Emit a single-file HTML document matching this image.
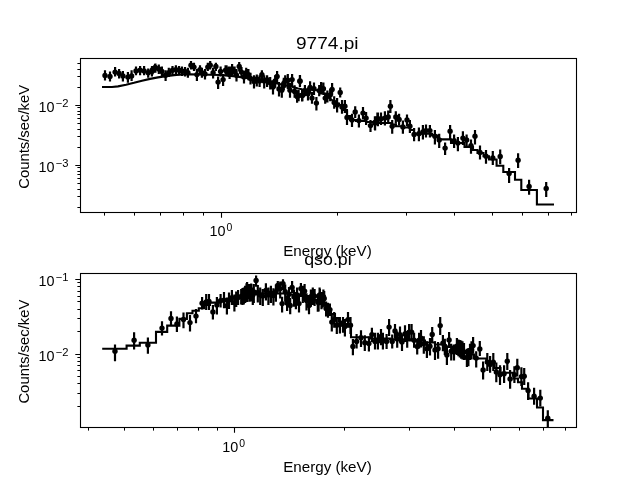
<!DOCTYPE html><html><head><meta charset="utf-8"><title>plot</title><style>html,body{margin:0;padding:0;background:#fff;width:640px;height:480px;overflow:hidden;font-family:"Liberation Sans",sans-serif}</style></head><body><svg width="640" height="480" viewBox="0 0 640 480" style="position:absolute;left:0;top:0;" font-family="Liberation Sans, sans-serif" fill="#000">
<rect width="640" height="480" fill="#fff"/>
<rect x="80.5" y="58.5" width="496" height="154.0" fill="none" stroke="#000" stroke-width="1.1"/><path d="M221.50,212.5v5.2M80.5,105.50h-5.2M80.5,165.50h-5.2" stroke="#000" stroke-width="1.1" fill="none"/><path d="M104.50,212.5v3.1M134.50,212.5v3.1M160.50,212.5v3.1M183.50,212.5v3.1M203.50,212.5v3.1M337.50,212.5v3.1M406.50,212.5v3.1M454.50,212.5v3.1M492.50,212.5v3.1M522.50,212.5v3.1M548.50,212.5v3.1M571.50,212.5v3.1M80.5,87.50h-3.1M80.5,76.50h-3.1M80.5,69.50h-3.1M80.5,63.50h-3.1M80.5,147.50h-3.1M80.5,136.50h-3.1M80.5,129.50h-3.1M80.5,123.50h-3.1M80.5,118.50h-3.1M80.5,114.50h-3.1M80.5,111.50h-3.1M80.5,107.50h-3.1M80.5,207.50h-3.1M80.5,196.50h-3.1M80.5,189.50h-3.1M80.5,183.50h-3.1M80.5,178.50h-3.1M80.5,174.50h-3.1M80.5,171.50h-3.1M80.5,167.50h-3.1" stroke="#000" stroke-width="1" fill="none"/>
<path d="M102.0,87.0L112.0,87.0L118.0,86.4L126.0,84.7L134.0,82.8L142.0,80.7L150.0,78.9L158.0,77.4L166.0,76.1L174.0,75.1L182.0,74.5L190.0,74.3L200.0,74.5L210.0,74.7L220.0,75.0L228.0,75.6L236.0,76.5L244.0,77.6L252.0,78.8L260.0,80.2L268.0,81.7L276.0,83.3L284.0,85.0L292.0,86.8L298.0,88.5L302.0,89.3L310.0,89.8L318.0,90.3L321.0,91.5L324.0,93.5L327.0,96.0L330.0,98.5L332.0,100.0L334.5,102.0L337.0,103.5H339.0V105.0H343.0V110.0H347.0V116.0H350.0V120.0H356.0V121.0H366.0V122.0H376.0V123.0H388.0V123.0H392.0V124.5H396.0V126.3H404.0V127.5H410.0V130.0H414.0V133.8H432.0V135.5H438.0V139.4H451.0V143.0H464.5V146.9H473.0V150.0H477.5V153.0H483.5V156.3H489.0V159.5H496.6V165.8H503.3V172.0H515.0V179.8H521.3V190.0H536.9V204.5H554.0" stroke="#000" stroke-width="2.1" fill="none" stroke-linejoin="miter"/>
<path d="M105.0,70.2V80.5M110.0,71.5V81.5M115.1,67.1V76.5M119.1,69.0V78.4M122.9,70.9V81.5M127.9,72.1V82.8M131.6,70.2V80.9M136.0,66.5V75.2M140.1,65.9V75.2M144.1,65.9V75.2M148.2,68.4V77.8M152.2,65.9V75.0M155.4,63.4V72.8M151.9,66.5V76.5M155.0,64.0V72.8M158.8,64.6V74.0M161.9,66.5V76.5M165.6,70.2V80.9M168.8,67.8V77.1M172.5,65.9V75.2M175.9,65.2V74.6M179.0,65.9V75.2M181.9,66.5V75.9M185.0,67.1V76.5M187.9,67.8V77.8M191.0,60.9V69.6M194.0,62.8V70.9M196.9,69.0V80.9M200.0,65.2V74.6M201.9,67.8V77.8M205.0,69.0V79.6M207.8,62.8V70.9M210.2,60.9V69.6M213.1,67.8V78.4M215.9,62.8V70.9M218.1,76.5V89.0M220.6,66.5V76.5M223.1,74.0V85.9M225.6,65.2V74.6M228.8,66.5V77.1M226.5,65.2V75.2M229.6,66.5V79.0M232.1,64.0V75.2M234.6,66.5V77.1M236.5,69.0V81.5M239.2,62.1V71.5M241.5,67.1V77.8M244.0,71.5V83.4M246.2,67.8V78.4M248.4,69.0V80.2M250.5,72.8V84.6M254.0,75.2V88.4M256.8,74.6V86.5M259.6,75.2V87.1M261.9,70.2V80.9M264.2,75.2V88.4M267.1,75.2V87.1M270.2,77.1V89.6M273.0,80.2V94.6M275.2,75.2V87.8M277.1,70.9V83.4M279.0,82.1V96.5M281.8,83.4V97.8M283.8,77.8V90.2M285.2,75.2V87.8M287.8,74.0V89.0M290.0,82.8V97.8M292.1,74.0V86.5M294.6,85.2V97.8M297.1,90.2V102.8M300.0,75.2V86.5M302.1,89.0V101.5M299.9,75.0V86.9M298.6,90.0V101.2M302.4,90.0V101.2M304.9,85.0V96.2M308.0,87.5V100.6M310.1,81.2V93.8M312.0,91.9V103.8M314.0,82.5V95.0M316.4,96.9V110.6M319.2,85.0V96.2M321.1,81.9V94.4M323.4,82.5V95.0M325.2,92.5V103.8M327.4,90.6V102.5M330.2,88.8V101.2M332.1,83.1V95.6M334.2,96.2V108.8M337.1,98.1V112.5M340.2,87.5V97.5M342.0,100.0V113.8M344.9,100.0V113.1M347.0,110.6V125.0M352.0,113.8V126.9M355.2,106.2V118.1M358.9,114.4V127.5M363.0,106.9V119.4M366.1,111.9V125.0M370.5,120.0V131.9M374.9,116.2V130.0M377.4,112.5V125.0M375.1,116.9V130.6M377.9,112.5V126.2M381.0,112.5V125.0M384.9,111.2V125.6M388.2,110.6V123.1M390.4,100.0V113.1M392.2,120.0V133.8M395.8,111.2V123.8M399.1,113.8V125.6M402.9,120.6V133.8M407.0,114.4V126.2M409.9,120.0V133.1M414.1,128.1V141.2M418.9,127.5V141.2M422.9,125.0V139.4M426.0,124.4V137.5M429.9,125.0V137.5M434.9,130.0V144.4M439.2,133.8V148.1M445.1,142.5V155.0M450.1,125.0V139.4M454.1,134.4V148.1M457.9,136.9V151.2M462.9,131.2V145.0M466.6,134.4V146.2M471.0,139.4V153.8M475.0,130.0V144.4M480.0,145.6V159.4M486.0,150.0V163.8M492.8,150.9V165.0M500.2,149.4V164.2M509.1,168.1V183.0M518.1,153.3V168.1M529.1,179.8V194.7M546.2,181.9V197.0" stroke="#000" stroke-width="2.2" fill="none"/><circle cx="105.0" cy="75.5" r="2.7"/><circle cx="110.0" cy="76.5" r="2.7"/><circle cx="115.1" cy="72.1" r="2.7"/><circle cx="119.1" cy="73.4" r="2.7"/><circle cx="122.9" cy="75.9" r="2.7"/><circle cx="127.9" cy="77.1" r="2.7"/><circle cx="131.6" cy="75.9" r="2.7"/><circle cx="136.0" cy="70.9" r="2.7"/><circle cx="140.1" cy="70.2" r="2.7"/><circle cx="144.1" cy="70.9" r="2.7"/><circle cx="148.2" cy="72.8" r="2.7"/><circle cx="152.2" cy="70.2" r="2.7"/><circle cx="155.4" cy="67.8" r="2.7"/><circle cx="151.9" cy="71.5" r="2.7"/><circle cx="155.0" cy="67.8" r="2.7"/><circle cx="158.8" cy="69.0" r="2.7"/><circle cx="161.9" cy="71.5" r="2.7"/><circle cx="165.6" cy="75.2" r="2.7"/><circle cx="168.8" cy="72.8" r="2.7"/><circle cx="172.5" cy="70.2" r="2.7"/><circle cx="175.9" cy="69.6" r="2.7"/><circle cx="179.0" cy="70.2" r="2.7"/><circle cx="181.9" cy="70.9" r="2.7"/><circle cx="185.0" cy="71.5" r="2.7"/><circle cx="187.9" cy="72.8" r="2.7"/><circle cx="191.0" cy="65.2" r="2.7"/><circle cx="194.0" cy="67.1" r="2.7"/><circle cx="196.9" cy="74.6" r="2.7"/><circle cx="200.0" cy="69.6" r="2.7"/><circle cx="201.9" cy="72.8" r="2.7"/><circle cx="205.0" cy="74.0" r="2.7"/><circle cx="207.8" cy="67.1" r="2.7"/><circle cx="210.2" cy="65.2" r="2.7"/><circle cx="213.1" cy="72.8" r="2.7"/><circle cx="215.9" cy="66.5" r="2.7"/><circle cx="218.1" cy="82.1" r="2.7"/><circle cx="220.6" cy="71.5" r="2.7"/><circle cx="223.1" cy="79.6" r="2.7"/><circle cx="225.6" cy="70.2" r="2.7"/><circle cx="228.8" cy="71.5" r="2.7"/><circle cx="226.5" cy="70.2" r="2.7"/><circle cx="229.6" cy="72.8" r="2.7"/><circle cx="232.1" cy="69.0" r="2.7"/><circle cx="234.6" cy="71.5" r="2.7"/><circle cx="236.5" cy="75.2" r="2.7"/><circle cx="239.2" cy="66.5" r="2.7"/><circle cx="241.5" cy="72.1" r="2.7"/><circle cx="244.0" cy="77.1" r="2.7"/><circle cx="246.2" cy="72.8" r="2.7"/><circle cx="248.4" cy="74.6" r="2.7"/><circle cx="250.5" cy="78.4" r="2.7"/><circle cx="254.0" cy="81.5" r="2.7"/><circle cx="256.8" cy="79.0" r="2.7"/><circle cx="259.6" cy="80.9" r="2.7"/><circle cx="261.9" cy="74.6" r="2.7"/><circle cx="264.2" cy="80.9" r="2.7"/><circle cx="267.1" cy="79.6" r="2.7"/><circle cx="270.2" cy="82.8" r="2.7"/><circle cx="273.0" cy="87.1" r="2.7"/><circle cx="275.2" cy="80.9" r="2.7"/><circle cx="277.1" cy="76.5" r="2.7"/><circle cx="279.0" cy="89.0" r="2.7"/><circle cx="281.8" cy="90.2" r="2.7"/><circle cx="283.8" cy="83.4" r="2.7"/><circle cx="285.2" cy="80.9" r="2.7"/><circle cx="287.8" cy="80.2" r="2.7"/><circle cx="290.0" cy="90.2" r="2.7"/><circle cx="292.1" cy="79.6" r="2.7"/><circle cx="294.6" cy="91.5" r="2.7"/><circle cx="297.1" cy="96.5" r="2.7"/><circle cx="300.0" cy="80.9" r="2.7"/><circle cx="302.1" cy="95.2" r="2.7"/><circle cx="299.9" cy="81.2" r="2.7"/><circle cx="298.6" cy="95.6" r="2.7"/><circle cx="302.4" cy="95.6" r="2.7"/><circle cx="304.9" cy="90.6" r="2.7"/><circle cx="308.0" cy="93.8" r="2.7"/><circle cx="310.1" cy="87.5" r="2.7"/><circle cx="312.0" cy="98.1" r="2.7"/><circle cx="314.0" cy="88.8" r="2.7"/><circle cx="316.4" cy="103.1" r="2.7"/><circle cx="319.2" cy="90.6" r="2.7"/><circle cx="321.1" cy="88.1" r="2.7"/><circle cx="323.4" cy="88.8" r="2.7"/><circle cx="325.2" cy="98.1" r="2.7"/><circle cx="327.4" cy="96.2" r="2.7"/><circle cx="330.2" cy="95.0" r="2.7"/><circle cx="332.1" cy="89.4" r="2.7"/><circle cx="334.2" cy="102.5" r="2.7"/><circle cx="337.1" cy="105.0" r="2.7"/><circle cx="340.2" cy="92.5" r="2.7"/><circle cx="342.0" cy="106.9" r="2.7"/><circle cx="344.9" cy="106.2" r="2.7"/><circle cx="347.0" cy="117.5" r="2.7"/><circle cx="352.0" cy="120.0" r="2.7"/><circle cx="355.2" cy="111.9" r="2.7"/><circle cx="358.9" cy="120.6" r="2.7"/><circle cx="363.0" cy="113.1" r="2.7"/><circle cx="366.1" cy="118.1" r="2.7"/><circle cx="370.5" cy="125.6" r="2.7"/><circle cx="374.9" cy="122.5" r="2.7"/><circle cx="377.4" cy="118.8" r="2.7"/><circle cx="375.1" cy="123.1" r="2.7"/><circle cx="377.9" cy="119.4" r="2.7"/><circle cx="381.0" cy="118.8" r="2.7"/><circle cx="384.9" cy="118.1" r="2.7"/><circle cx="388.2" cy="116.9" r="2.7"/><circle cx="390.4" cy="106.2" r="2.7"/><circle cx="392.2" cy="126.2" r="2.7"/><circle cx="395.8" cy="116.9" r="2.7"/><circle cx="399.1" cy="119.4" r="2.7"/><circle cx="402.9" cy="126.9" r="2.7"/><circle cx="407.0" cy="120.0" r="2.7"/><circle cx="409.9" cy="126.2" r="2.7"/><circle cx="414.1" cy="134.4" r="2.7"/><circle cx="418.9" cy="133.8" r="2.7"/><circle cx="422.9" cy="131.9" r="2.7"/><circle cx="426.0" cy="130.6" r="2.7"/><circle cx="429.9" cy="130.6" r="2.7"/><circle cx="434.9" cy="136.2" r="2.7"/><circle cx="439.2" cy="140.0" r="2.7"/><circle cx="445.1" cy="148.1" r="2.7"/><circle cx="450.1" cy="131.2" r="2.7"/><circle cx="454.1" cy="140.6" r="2.7"/><circle cx="457.9" cy="143.1" r="2.7"/><circle cx="462.9" cy="138.1" r="2.7"/><circle cx="466.6" cy="140.0" r="2.7"/><circle cx="471.0" cy="145.6" r="2.7"/><circle cx="475.0" cy="136.2" r="2.7"/><circle cx="480.0" cy="152.5" r="2.7"/><circle cx="486.0" cy="156.2" r="2.7"/><circle cx="492.8" cy="158.0" r="2.7"/><circle cx="500.2" cy="156.4" r="2.7"/><circle cx="509.1" cy="173.6" r="2.7"/><circle cx="518.1" cy="160.3" r="2.7"/><circle cx="529.1" cy="186.4" r="2.7"/><circle cx="546.2" cy="188.4" r="2.7"/>
<rect x="80.5" y="273.5" width="496" height="154.0" fill="none" stroke="#000" stroke-width="1.1"/><path d="M234.50,427.5v5.2M80.5,279.50h-5.2M80.5,354.50h-5.2" stroke="#000" stroke-width="1.1" fill="none"/><path d="M88.50,427.5v3.1M124.50,427.5v3.1M153.50,427.5v3.1M177.50,427.5v3.1M198.50,427.5v3.1M217.50,427.5v3.1M344.50,427.5v3.1M409.50,427.5v3.1M454.50,427.5v3.1M490.50,427.5v3.1M519.50,427.5v3.1M543.50,427.5v3.1M565.50,427.5v3.1M80.5,331.50h-3.1M80.5,318.50h-3.1M80.5,309.50h-3.1M80.5,301.50h-3.1M80.5,296.50h-3.1M80.5,291.50h-3.1M80.5,286.50h-3.1M80.5,282.50h-3.1M80.5,406.50h-3.1M80.5,393.50h-3.1M80.5,383.50h-3.1M80.5,376.50h-3.1M80.5,370.50h-3.1M80.5,365.50h-3.1M80.5,361.50h-3.1M80.5,357.50h-3.1" stroke="#000" stroke-width="1" fill="none"/>
<path d="M102.2,348.8H126.6V345.6H139.8V342.8H156.0V331.9H167.2V325.6H179.4V318.9H186.9V313.2H192.5V310.8H198.8V308.2H204.0V305.0H210.0V302.6H220.0V300.0H230.0V298.0H240.0V296.0H250.0V294.5H262.0V293.5H276.0V293.5H290.0V294.5H300.0V296.0H308.0V298.0H314.0V300.0H319.0V302.5H323.0V305.5H327.0V309.5H331.0V314.0H335.0V318.0H339.0V321.5H344.0V324.0H348.0V326.0H351.0V337.3H370.0V338.5H390.0V339.3H410.0V340.5H425.0V342.5H435.0V344.5H445.0V346.5H453.0V349.0H460.0V351.5H467.0V354.5H474.0V358.5H486.3V362.5H494.0V368.0H500.5V372.8H513.5V378.5H518.0V382.2H522.0V388.8H528.5V398.5H537.0V407.5H543.0V420.1H553.5" stroke="#000" stroke-width="2.1" fill="none" stroke-linejoin="miter"/>
<path d="M115.0,344.4V361.2M134.1,332.2V349.4M147.9,337.5V353.8M162.0,321.2V335.6M171.0,311.2V325.6M176.9,316.4V332.0M183.5,312.6V328.2M190.0,315.1V331.4M196.0,308.9V323.2M202.1,297.0V309.5M206.2,293.9V310.1M209.0,293.9V310.1M212.9,305.1V319.5M216.9,297.0V314.5M220.6,293.9V307.6M224.0,292.0V308.2M226.9,297.6V314.5M229.0,292.6V308.9M231.9,290.1V305.1M234.4,294.5V311.4M236.2,291.4V307.0M238.1,290.1V305.1M241.2,288.9V304.5M242.5,288.9V305.1M243.8,287.6V304.5M245.0,286.4V302.0M246.5,283.2V298.2M247.8,283.9V298.9M249.0,283.9V298.9M245.2,285.8V303.0M247.1,282.0V299.2M249.6,284.5V301.8M252.8,287.6V304.9M256.1,275.5V286.8M257.8,285.1V302.4M260.2,287.6V304.9M262.8,288.9V306.1M265.9,283.2V300.5M268.4,287.6V304.9M270.9,285.8V303.0M273.4,288.2V305.5M275.9,284.5V301.8M277.8,281.1V291.8M280.2,281.4V298.6M282.1,296.8V312.4M283.0,279.2V289.9M285.2,284.5V301.8M287.1,295.5V311.1M289.0,287.0V304.2M290.2,298.0V314.2M292.1,281.1V293.0M294.0,289.5V306.8M295.9,292.0V309.2M297.1,287.6V304.9M299.0,296.8V312.4M300.9,283.0V294.9M302.8,285.8V303.0M304.6,283.9V301.1M306.5,293.2V310.5M309.0,298.0V314.2M310.9,289.5V306.8M312.8,287.6V304.9M314.6,288.9V306.1M317.8,294.5V311.8M319.6,287.6V304.9M321.5,292.0V309.2M323.4,289.5V306.8M319.9,289.0V304.6M318.6,295.2V311.5M322.4,292.8V307.8M324.2,290.9V306.5M326.1,301.5V316.5M328.0,302.8V317.8M329.9,303.4V315.9M331.8,314.0V331.5M334.2,312.1V327.8M336.8,317.1V334.0M339.9,317.1V333.4M343.0,317.1V332.8M344.9,319.0V336.5M348.0,312.1V327.8M350.5,317.1V334.0M352.9,339.0V355.2M356.6,334.0V348.4M361.0,330.2V347.1M364.8,335.2V350.9M368.9,336.5V351.5M371.9,327.8V342.1M375.0,332.8V349.6M377.9,332.8V349.6M381.0,329.0V345.2M382.9,332.8V349.6M386.6,334.0V349.0M389.1,319.0V335.9M392.2,334.6V348.4M395.0,324.0V338.4M397.2,331.5V347.8M400.0,326.5V342.8M402.0,334.6V350.9M405.0,325.2V342.1M407.2,330.9V347.8M409.1,324.0V340.2M411.6,324.0V340.2M414.1,332.8V347.8M417.2,339.0V354.6M419.1,332.8V348.4M421.0,330.0V347.5M423.8,336.2V353.8M426.9,341.2V358.1M430.0,338.1V355.6M432.2,326.9V342.5M435.0,341.2V360.0M438.1,341.9V358.8M440.2,316.9V335.0M442.9,335.0V351.2M444.8,338.8V355.0M446.9,346.9V365.0M449.1,331.9V348.1M451.2,343.8V360.6M454.0,344.4V360.6M456.9,338.1V355.0M458.4,339.4V356.2M459.8,340.0V357.5M461.2,340.6V358.8M462.5,341.2V359.4M464.0,343.1V360.0M466.9,348.8V366.9M468.4,348.1V366.2M471.5,341.2V359.4M470.0,343.8V360.0M473.1,336.9V353.8M476.2,351.2V367.5M479.8,340.9V355.9M483.1,361.6V379.4M487.3,353.1V370.9M490.1,355.9V372.8M493.3,353.1V370.9M496.3,362.5V382.2M500.0,365.3V385.0M504.1,365.3V383.1M507.3,353.1V370.0M510.1,370.0V388.8M514.4,366.3V383.1M517.3,358.8V376.6M521.4,367.2V385.9M524.2,368.1V385.0M528.1,382.2V400.0M534.1,387.8V404.7M540.3,389.7V406.6M547.8,410.3V427.2M242.5,288.0V305.0M247.2,284.5V302.0M251.2,283.5V301.5M253.8,284.0V303.0" stroke="#000" stroke-width="2.2" fill="none"/><circle cx="115.0" cy="351.2" r="2.7"/><circle cx="134.1" cy="340.2" r="2.7"/><circle cx="147.9" cy="345.0" r="2.7"/><circle cx="162.0" cy="328.1" r="2.7"/><circle cx="171.0" cy="318.5" r="2.7"/><circle cx="176.9" cy="323.9" r="2.7"/><circle cx="183.5" cy="319.5" r="2.7"/><circle cx="190.0" cy="322.6" r="2.7"/><circle cx="196.0" cy="316.1" r="2.7"/><circle cx="202.1" cy="303.2" r="2.7"/><circle cx="206.2" cy="302.0" r="2.7"/><circle cx="209.0" cy="301.4" r="2.7"/><circle cx="212.9" cy="312.0" r="2.7"/><circle cx="216.9" cy="305.1" r="2.7"/><circle cx="220.6" cy="300.8" r="2.7"/><circle cx="224.0" cy="300.1" r="2.7"/><circle cx="226.9" cy="305.8" r="2.7"/><circle cx="229.0" cy="300.1" r="2.7"/><circle cx="231.9" cy="297.6" r="2.7"/><circle cx="234.4" cy="302.6" r="2.7"/><circle cx="236.2" cy="298.9" r="2.7"/><circle cx="238.1" cy="297.6" r="2.7"/><circle cx="241.2" cy="296.4" r="2.7"/><circle cx="242.5" cy="297.0" r="2.7"/><circle cx="243.8" cy="295.8" r="2.7"/><circle cx="245.0" cy="293.9" r="2.7"/><circle cx="246.5" cy="290.8" r="2.7"/><circle cx="247.8" cy="291.4" r="2.7"/><circle cx="249.0" cy="292.0" r="2.7"/><circle cx="245.2" cy="293.0" r="2.7"/><circle cx="247.1" cy="289.2" r="2.7"/><circle cx="249.6" cy="291.8" r="2.7"/><circle cx="252.8" cy="294.9" r="2.7"/><circle cx="256.1" cy="280.5" r="2.7"/><circle cx="257.8" cy="292.4" r="2.7"/><circle cx="260.2" cy="294.9" r="2.7"/><circle cx="262.8" cy="296.1" r="2.7"/><circle cx="265.9" cy="290.5" r="2.7"/><circle cx="268.4" cy="294.9" r="2.7"/><circle cx="270.9" cy="293.0" r="2.7"/><circle cx="273.4" cy="295.5" r="2.7"/><circle cx="275.9" cy="291.8" r="2.7"/><circle cx="277.8" cy="285.5" r="2.7"/><circle cx="280.2" cy="288.6" r="2.7"/><circle cx="282.1" cy="303.6" r="2.7"/><circle cx="283.0" cy="283.6" r="2.7"/><circle cx="285.2" cy="291.8" r="2.7"/><circle cx="287.1" cy="303.0" r="2.7"/><circle cx="289.0" cy="294.2" r="2.7"/><circle cx="290.2" cy="305.5" r="2.7"/><circle cx="292.1" cy="287.4" r="2.7"/><circle cx="294.0" cy="296.8" r="2.7"/><circle cx="295.9" cy="299.2" r="2.7"/><circle cx="297.1" cy="294.9" r="2.7"/><circle cx="299.0" cy="303.6" r="2.7"/><circle cx="300.9" cy="288.6" r="2.7"/><circle cx="302.8" cy="293.0" r="2.7"/><circle cx="304.6" cy="291.1" r="2.7"/><circle cx="306.5" cy="300.5" r="2.7"/><circle cx="309.0" cy="305.5" r="2.7"/><circle cx="310.9" cy="296.8" r="2.7"/><circle cx="312.8" cy="294.9" r="2.7"/><circle cx="314.6" cy="296.1" r="2.7"/><circle cx="317.8" cy="301.8" r="2.7"/><circle cx="319.6" cy="294.9" r="2.7"/><circle cx="321.5" cy="299.2" r="2.7"/><circle cx="323.4" cy="296.8" r="2.7"/><circle cx="319.9" cy="296.5" r="2.7"/><circle cx="318.6" cy="302.8" r="2.7"/><circle cx="322.4" cy="300.2" r="2.7"/><circle cx="324.2" cy="298.4" r="2.7"/><circle cx="326.1" cy="308.4" r="2.7"/><circle cx="328.0" cy="310.9" r="2.7"/><circle cx="329.9" cy="309.6" r="2.7"/><circle cx="331.8" cy="322.1" r="2.7"/><circle cx="334.2" cy="319.6" r="2.7"/><circle cx="336.8" cy="325.2" r="2.7"/><circle cx="339.9" cy="324.6" r="2.7"/><circle cx="343.0" cy="324.0" r="2.7"/><circle cx="344.9" cy="326.5" r="2.7"/><circle cx="348.0" cy="319.6" r="2.7"/><circle cx="350.5" cy="325.2" r="2.7"/><circle cx="352.9" cy="346.5" r="2.7"/><circle cx="356.6" cy="341.5" r="2.7"/><circle cx="361.0" cy="337.8" r="2.7"/><circle cx="364.8" cy="342.8" r="2.7"/><circle cx="368.9" cy="343.4" r="2.7"/><circle cx="371.9" cy="334.6" r="2.7"/><circle cx="375.0" cy="341.5" r="2.7"/><circle cx="377.9" cy="340.9" r="2.7"/><circle cx="381.0" cy="336.5" r="2.7"/><circle cx="382.9" cy="340.9" r="2.7"/><circle cx="386.6" cy="341.5" r="2.7"/><circle cx="389.1" cy="327.1" r="2.7"/><circle cx="392.2" cy="341.5" r="2.7"/><circle cx="395.0" cy="330.9" r="2.7"/><circle cx="397.2" cy="339.0" r="2.7"/><circle cx="400.0" cy="334.6" r="2.7"/><circle cx="402.0" cy="342.1" r="2.7"/><circle cx="405.0" cy="334.0" r="2.7"/><circle cx="407.2" cy="339.0" r="2.7"/><circle cx="409.1" cy="332.1" r="2.7"/><circle cx="411.6" cy="332.1" r="2.7"/><circle cx="414.1" cy="340.2" r="2.7"/><circle cx="417.2" cy="346.5" r="2.7"/><circle cx="419.1" cy="340.2" r="2.7"/><circle cx="421.0" cy="338.1" r="2.7"/><circle cx="423.8" cy="343.8" r="2.7"/><circle cx="426.9" cy="348.8" r="2.7"/><circle cx="430.0" cy="346.2" r="2.7"/><circle cx="432.2" cy="334.4" r="2.7"/><circle cx="435.0" cy="350.0" r="2.7"/><circle cx="438.1" cy="348.8" r="2.7"/><circle cx="440.2" cy="325.6" r="2.7"/><circle cx="442.9" cy="343.1" r="2.7"/><circle cx="444.8" cy="346.2" r="2.7"/><circle cx="446.9" cy="355.0" r="2.7"/><circle cx="449.1" cy="340.0" r="2.7"/><circle cx="451.2" cy="351.2" r="2.7"/><circle cx="454.0" cy="351.9" r="2.7"/><circle cx="456.9" cy="346.2" r="2.7"/><circle cx="458.4" cy="347.5" r="2.7"/><circle cx="459.8" cy="348.8" r="2.7"/><circle cx="461.2" cy="350.0" r="2.7"/><circle cx="462.5" cy="350.6" r="2.7"/><circle cx="464.0" cy="351.9" r="2.7"/><circle cx="466.9" cy="357.5" r="2.7"/><circle cx="468.4" cy="356.2" r="2.7"/><circle cx="471.5" cy="350.0" r="2.7"/><circle cx="470.0" cy="352.5" r="2.7"/><circle cx="473.1" cy="345.6" r="2.7"/><circle cx="476.2" cy="358.1" r="2.7"/><circle cx="479.8" cy="349.0" r="2.7"/><circle cx="483.1" cy="370.0" r="2.7"/><circle cx="487.3" cy="362.1" r="2.7"/><circle cx="490.1" cy="364.4" r="2.7"/><circle cx="493.3" cy="362.1" r="2.7"/><circle cx="496.3" cy="371.9" r="2.7"/><circle cx="500.0" cy="374.7" r="2.7"/><circle cx="504.1" cy="373.8" r="2.7"/><circle cx="507.3" cy="361.2" r="2.7"/><circle cx="510.1" cy="379.0" r="2.7"/><circle cx="514.4" cy="374.7" r="2.7"/><circle cx="517.3" cy="367.8" r="2.7"/><circle cx="521.4" cy="376.6" r="2.7"/><circle cx="524.2" cy="376.2" r="2.7"/><circle cx="528.1" cy="390.6" r="2.7"/><circle cx="534.1" cy="396.3" r="2.7"/><circle cx="540.3" cy="398.1" r="2.7"/><circle cx="547.8" cy="418.2" r="2.7"/><circle cx="242.5" cy="296.0" r="2.7"/><circle cx="247.2" cy="292.5" r="2.7"/><circle cx="251.2" cy="291.0" r="2.7"/><circle cx="253.8" cy="292.0" r="2.7"/>
<filter id="g" x="0" y="0" width="640" height="480" filterUnits="userSpaceOnUse" color-interpolation-filters="sRGB"><feColorMatrix type="saturate" values="0"/></filter><g filter="url(#g)">
<text x="296" y="48.9" font-size="16.7" textLength="62.5" lengthAdjust="spacingAndGlyphs">9774.pi</text>
<text x="283.2" y="256.1" font-size="14.3" textLength="88.5" lengthAdjust="spacingAndGlyphs">Energy (keV)</text>
<text x="304.2" y="264.9" font-size="16.7" textLength="47.5" lengthAdjust="spacingAndGlyphs">qso.pi</text>
<text x="283.2" y="471.9" font-size="14.3" textLength="88.5" lengthAdjust="spacingAndGlyphs">Energy (keV)</text>
<text transform="translate(28.7,188.8) rotate(-90)" font-size="14.5" textLength="104" lengthAdjust="spacingAndGlyphs">Counts/sec/keV</text>
<text transform="translate(28.7,403.6) rotate(-90)" font-size="14.5" textLength="104" lengthAdjust="spacingAndGlyphs">Counts/sec/keV</text>
<text x="38.5" y="111.8" font-size="13.9" textLength="16" lengthAdjust="spacingAndGlyphs">10</text><text x="55.6" y="106.8" font-size="10.4" textLength="12.8" lengthAdjust="spacingAndGlyphs">−2</text>
<text x="38.5" y="171.9" font-size="13.9" textLength="16" lengthAdjust="spacingAndGlyphs">10</text><text x="55.6" y="167.0" font-size="10.4" textLength="12.8" lengthAdjust="spacingAndGlyphs">−3</text>
<text x="38.5" y="285.8" font-size="13.9" textLength="16" lengthAdjust="spacingAndGlyphs">10</text><text x="55.6" y="280.9" font-size="10.4" textLength="12.8" lengthAdjust="spacingAndGlyphs">−1</text>
<text x="38.5" y="360.8" font-size="13.9" textLength="16" lengthAdjust="spacingAndGlyphs">10</text><text x="55.6" y="355.9" font-size="10.4" textLength="12.8" lengthAdjust="spacingAndGlyphs">−2</text>
<text x="209.4" y="235.8" font-size="13.9" textLength="16" lengthAdjust="spacingAndGlyphs">10</text><text x="226.5" y="230.9" font-size="10.4" textLength="5.8" lengthAdjust="spacingAndGlyphs">0</text>
<text x="222.2" y="451.7" font-size="13.9" textLength="16" lengthAdjust="spacingAndGlyphs">10</text><text x="239.3" y="446.8" font-size="10.4" textLength="5.8" lengthAdjust="spacingAndGlyphs">0</text>
</g>
</svg></body></html>
